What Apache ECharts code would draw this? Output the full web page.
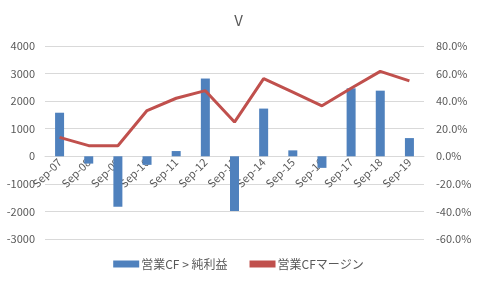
<!DOCTYPE html>
<html>
<head>
<meta charset="utf-8">
<script src="https://cdn.jsdelivr.net/npm/echarts@6/dist/echarts.min.js"></script>
<style>
  html, body { margin: 0; padding: 0; background: #fff; }
  #chart { width: 477px; height: 285px; }
</style>
</head>
<body>
<div id="chart"></div>
<script>
const categories = ['Sep-07', 'Sep-08', 'Sep-09', 'Sep-10', 'Sep-11', 'Sep-12', 'Sep-13',
  'Sep-14', 'Sep-15', 'Sep-16', 'Sep-17', 'Sep-18', 'Sep-19']
// 営業CF > 純利益 (bars, left axis)
const cfOverProfit = [1580, -265, -1830, -310, 190, 2820, -1985, 1730, 215, -420, 2465, 2380, 660]
// 営業CFマージン (line, right axis, %)
const cfMargin = [13.7, 7.7, 7.7, 33.2, 42.1, 47.6, 24.8, 56.3, 46.5, 36.6, 49.3, 61.6, 54.7]

const textColor = '#595959'
const gridColor = '#d9d9d9'
const fontFamily = "'Noto Sans CJK JP', 'Noto Sans', sans-serif"

const gridTop = 46
const gridBottom = 46
const leftMin = -3000
const leftMax = 4000
// x axis sits on the zero line, like Excel does
const plotHeight = 285 - gridTop - gridBottom
const zeroOffset = -plotHeight * (0 - leftMin) / (leftMax - leftMin)

const chart = echarts.init(document.getElementById('chart'))
chart.setOption({
  animation: false,
  textStyle: { fontFamily: fontFamily },
  title: {
    text: 'V',
    left: 'center',
    top: 8,
    textStyle: { color: textColor, fontSize: 15, fontWeight: 'normal', fontFamily: fontFamily }
  },
  legend: {
    bottom: 10,
    left: 'center',
    itemGap: 22,
    itemWidth: 26,
    itemHeight: 7,
    textStyle: { color: textColor, fontSize: 12, padding: [0, 0, 0, -3] },
    data: [
      { name: '営業CF > 純利益', icon: 'rect' },
      { name: '営業CFマージン', icon: 'rect', itemStyle: { color: '#C0504D' } }
    ]
  },
  grid: { left: 45, right: 53, top: gridTop, bottom: gridBottom },
  xAxis: {
    type: 'category',
    data: categories,
    offset: zeroOffset,
    z: 0,
    axisLine: { onZero: false, lineStyle: { color: gridColor } },
    axisTick: { show: false },
    axisLabel: { rotate: 45, color: textColor, fontSize: 11, margin: 4, interval: 0 }
  },
  yAxis: [
    {
      type: 'value',
      min: leftMin,
      max: leftMax,
      interval: 1000,
      axisLine: { show: false },
      axisTick: { show: false },
      axisLabel: { color: textColor, fontSize: 11, margin: 10, formatter: v => String(v) },
      splitLine: { lineStyle: { color: gridColor } }
    },
    {
      type: 'value',
      min: -60,
      max: 80,
      interval: 20,
      axisLine: { show: false },
      axisTick: { show: false },
      axisLabel: { color: textColor, fontSize: 11, margin: 12, formatter: v => v.toFixed(1) + '%' },
      splitLine: { show: false }
    }
  ],
  series: [
    {
      name: '営業CF > 純利益',
      type: 'bar',
      data: cfOverProfit,
      barWidth: 9,
      z: 3,
      itemStyle: { color: '#4F81BD' }
    },
    {
      name: '営業CFマージン',
      type: 'line',
      yAxisIndex: 1,
      data: cfMargin,
      symbol: 'none',
      z: 4,
      lineStyle: { color: '#C0504D', width: 3 },
      itemStyle: { color: '#C0504D' }
    }
  ]
})
</script>
</body>
</html>
